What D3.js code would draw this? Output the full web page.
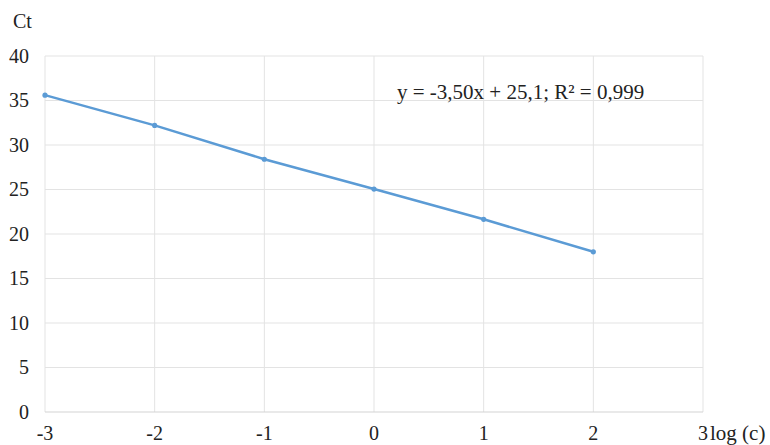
<!DOCTYPE html>
<html>
<head>
<meta charset="utf-8">
<script src="https://cdn.jsdelivr.net/npm/d3@7"></script>
<style>
  body { margin: 0; background: #fff; }
</style>
</head>
<body>
<svg id="chart" width="770" height="445"></svg>
<script>
// data
const logC = [-3, -2, -1, 0, 1, 2];
const ctValues = [35.6, 32.2, 28.4, 25.05, 21.65, 18.0];
const xTicks = [-3, -2, -1, 0, 1, 2, 3];
const yTicks = [0, 5, 10, 15, 20, 25, 30, 35, 40];
const equation = "y = -3,50x + 25,1; R² = 0,999";

const FONT = "'Liberation Serif', 'Times New Roman', Times, 'DejaVu Serif', serif";

const svg = d3.select("#chart")
    .attr("font-family", FONT)
    .style("font-family", FONT);
const x = d3.scaleLinear().domain([-3, 3]).range([45, 703]);
const y = d3.scaleLinear().domain([0, 40]).range([412, 56]);

// ─── GRID ───
svg.append("g")
    .selectAll("line")
    .data(yTicks.slice(1))
    .join("line")
    .attr("x1", x(-3)).attr("x2", x(3))
    .attr("y1", d => y(d)).attr("y2", d => y(d))
    .attr("stroke", "#e3e3e3").attr("stroke-width", 1);

svg.append("g")
    .selectAll("line")
    .data(xTicks)
    .join("line")
    .attr("x1", d => x(d)).attr("x2", d => x(d))
    .attr("y1", y(0)).attr("y2", y(40))
    .attr("stroke", "#e3e3e3").attr("stroke-width", 1);

// x axis line
svg.append("line")
    .attr("x1", x(-3)).attr("x2", x(3))
    .attr("y1", y(0)).attr("y2", y(0))
    .attr("stroke", "#d4d4d4").attr("stroke-width", 1.2);

// ─── TICK LABELS ───
const labels = svg.append("g")
    .attr("fill", "#222")
    .attr("font-size", 20);

labels.append("g")
    .selectAll("text")
    .data(yTicks)
    .join("text")
    .attr("x", 29)
    .attr("y", d => y(d))
    .attr("dy", "0.33em")
    .attr("text-anchor", "end")
    .text(d => d);

labels.append("g")
    .selectAll("text")
    .data(xTicks)
    .join("text")
    .attr("x", d => x(d))
    .attr("y", 440)
    .attr("text-anchor", "middle")
    .text(d => d);

// axis titles
labels.append("text")
    .attr("x", 13).attr("y", 28)
    .text("Ct");

labels.append("text")
    .attr("x", 710).attr("y", 440)
    .attr("font-size", 21)
    .text("log (c)");

// ─── SERIES ───
const pts = logC.map((d, i) => [d, ctValues[i]]);
svg.append("path")
    .datum(pts)
    .attr("fill", "none")
    .attr("stroke", "#5b9bd5")
    .attr("stroke-width", 2.5)
    .attr("d", d3.line().x(d => x(d[0])).y(d => y(d[1])));

svg.append("g")
    .selectAll("circle")
    .data(pts)
    .join("circle")
    .attr("cx", d => x(d[0]))
    .attr("cy", d => y(d[1]))
    .attr("r", 2.6)
    .attr("fill", "#5b9bd5");

// trendline label
svg.append("text")
    .attr("x", 397).attr("y", 92).attr("dy", "0.35em")
    .attr("fill", "#222")
    .attr("font-size", 21)
    .text(equation);
</script>
</body>
</html>
